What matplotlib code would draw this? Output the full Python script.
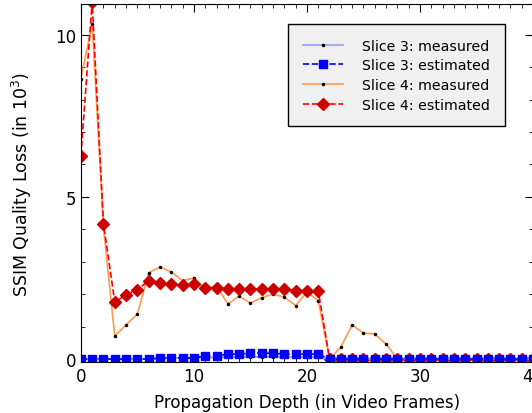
import numpy as np
import matplotlib.pyplot as plt
from matplotlib.ticker import MultipleLocator

depth = np.arange(41)

# slice 3 (values in 10^3)
s3_meas = [0, 0, 0, 0, 0, 0, 0, 0.03, 0.03, 0.04, 0.04, 0.05, 0.05, 0.06, 0.06,
           0.07, 0.07, 0.07, 0.06, 0.06, 0.06, 0.06] + [0] * 19
s3_est = [0, 0, 0, 0, 0, 0, 0, 0.03, 0.03, 0.03, 0.03, 0.1, 0.1, 0.15, 0.15,
          0.18, 0.18, 0.18, 0.15, 0.15, 0.15, 0.15] + [0] * 19

# slice 4
s4_meas = [8.64, 10.34, 4.07, 0.71, 1.05, 1.39, 2.66, 2.84, 2.68, 2.42, 2.5,
           2.16, 2.25, 1.7, 1.94, 1.73, 1.89, 2.0, 1.91, 1.65, 2.07, 1.8,
           0.0, 0.37, 1.05, 0.8, 0.77, 0.46, 0.0] + [0] * 12
s4_est = [6.27, 11.0, 4.17, 1.76, 1.98, 2.14, 2.42, 2.36, 2.31, 2.28, 2.31,
          2.19, 2.19, 2.16, 2.16, 2.16, 2.16, 2.16, 2.16, 2.11, 2.11, 2.1] + [0] * 19

fig = plt.figure(figsize=(5.32, 4.14), dpi=100)
ax = fig.add_axes([0.152, 0.1225, 0.85, 0.8655])

h3 = ax.plot(depth, s4_meas, '-', color='#ff9a4d', lw=1.2, marker='.', ms=3,
             mfc='k', mec='k', label='Slice 4: measured')
h4 = ax.plot(depth, s4_est, '--', color='red', lw=1.2, marker='D', ms=6.5,
             mfc='#cc0000', mec='#cc0000', label='Slice 4: estimated')
h1 = ax.plot(depth, s3_meas, '-', color='#9999ff', lw=1.2, marker='.', ms=3,
             mfc='k', mec='k', label='Slice 3: measured')
h2 = ax.plot(depth, s3_est, '--', color='blue', lw=1.2, marker='s', ms=5.5,
             mfc='blue', mec='blue', label='Slice 3: estimated')

ax.set_xlim(0, 40)
ax.set_ylim(-0.1, 10.95)
ax.xaxis.set_major_locator(MultipleLocator(10))
ax.xaxis.set_minor_locator(MultipleLocator(1))
ax.yaxis.set_major_locator(MultipleLocator(5))
ax.yaxis.set_minor_locator(MultipleLocator(1))
ax.tick_params(which='both', direction='in', top=True, right=True, labelsize=12)
ax.tick_params(which='major', length=6)
ax.tick_params(which='minor', length=3)

ax.set_xlabel('Propagation Depth (in Video Frames)', fontsize=12, labelpad=6)
ax.set_ylabel('SSIM Quality Loss (in 10$^3$)', fontsize=12.5, labelpad=15)

leg = ax.legend(handles=[h1[0], h2[0], h3[0], h4[0]], loc='upper left',
                bbox_to_anchor=(0.458, 0.945), borderaxespad=0, fontsize=10.2,
                fancybox=False, framealpha=1, handlelength=2.8,
                handletextpad=1.4, borderpad=1.05, labelspacing=0.4)
leg.get_frame().set_facecolor('#f0f0f0')
leg.get_frame().set_edgecolor('black')

plt.savefig('out.png')
